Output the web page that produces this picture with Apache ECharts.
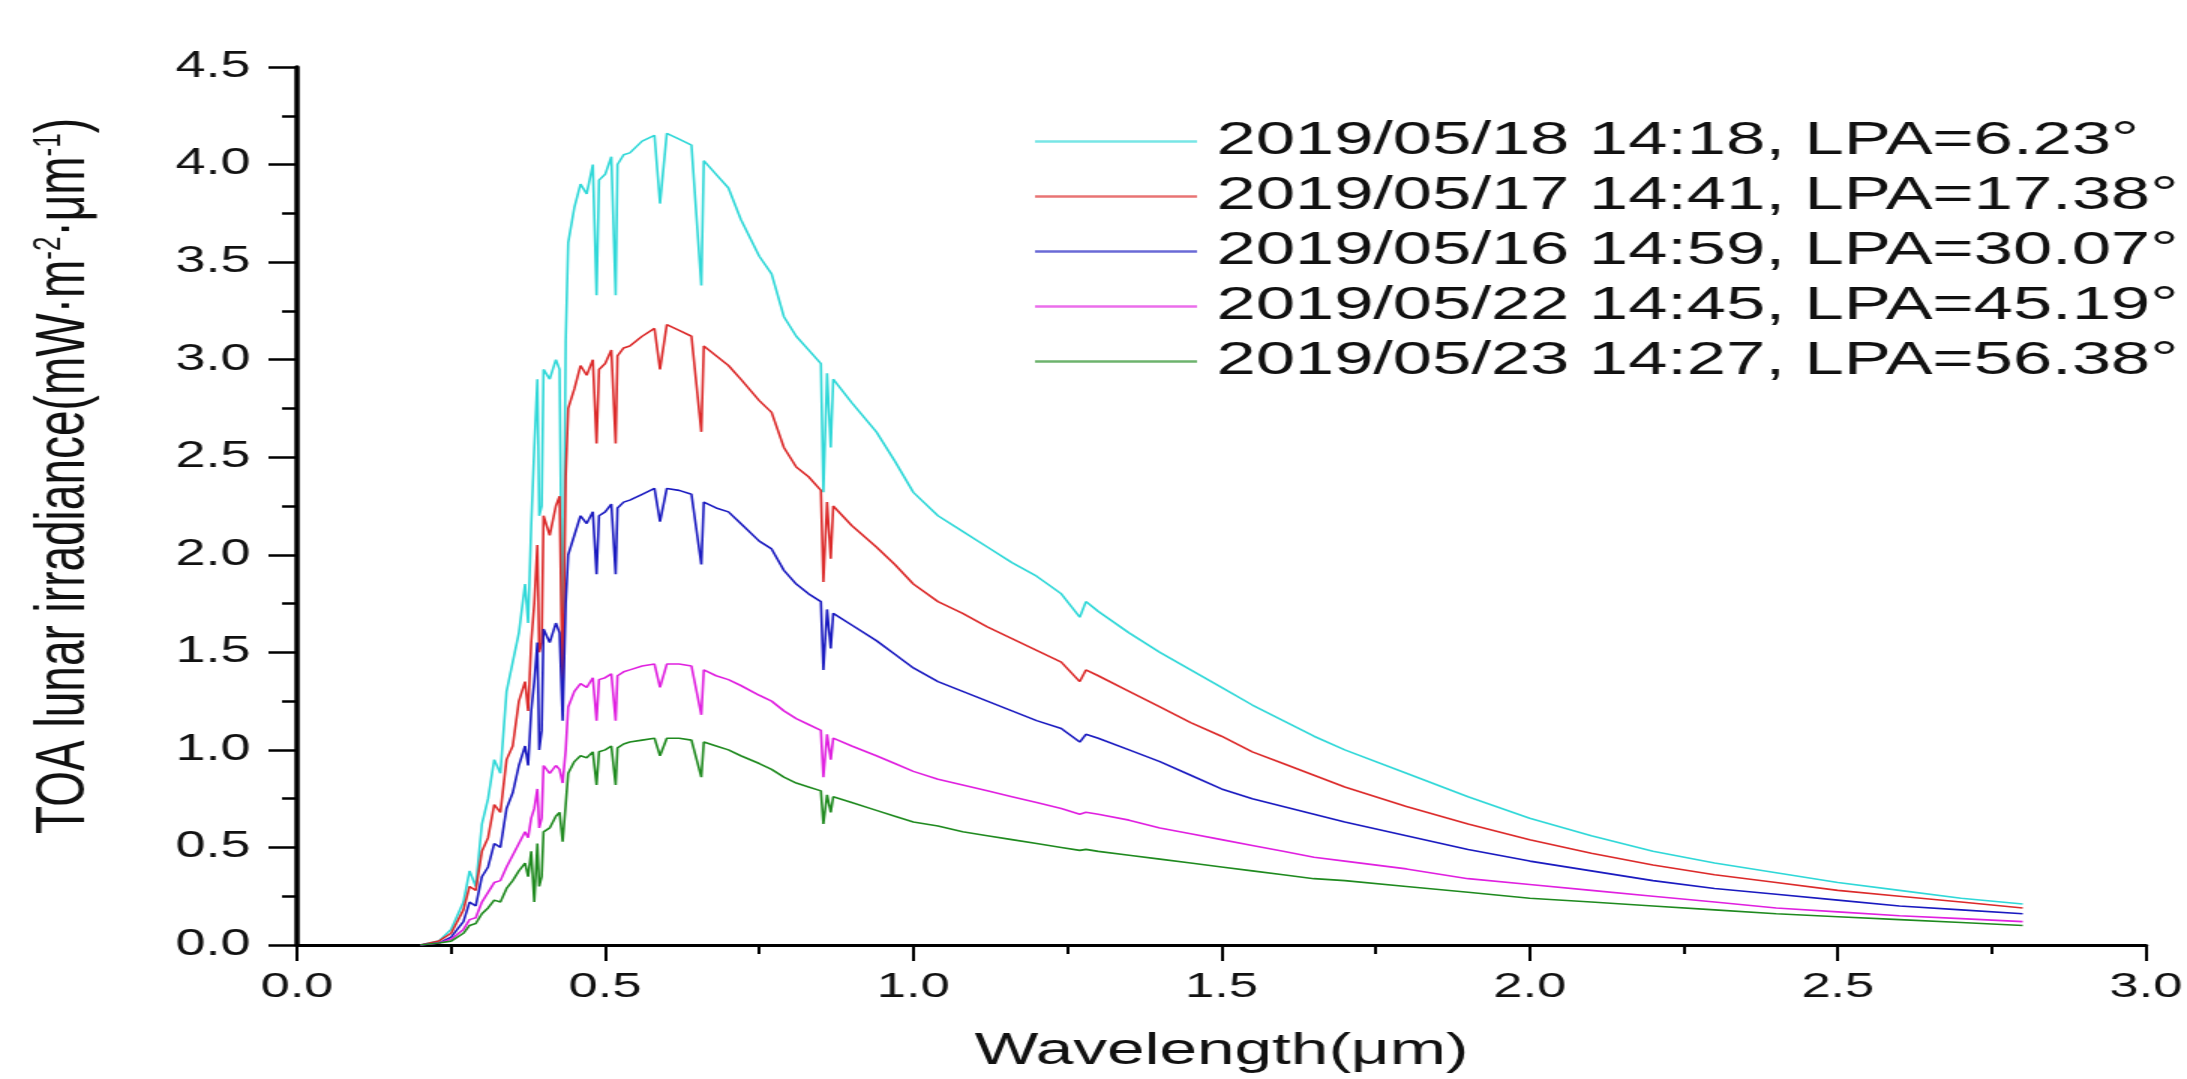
<!DOCTYPE html>
<html>
<head>
<meta charset="utf-8">
<script src="https://cdn.jsdelivr.net/npm/echarts@6/dist/echarts.min.js"></script>
<style>
  html, body { margin: 0; padding: 0; background: #ffffff; overflow: hidden; }
  #wrap { width: 2187px; height: 1079px; overflow: hidden; }
  #chart { width: 1458px; height: 1079px; transform: scaleX(1.5); transform-origin: 0 0; }
</style>
</head>
<body>
<div id="wrap"><div id="chart"></div></div>
<script>
// Wavelength grid (µm)
const wavelengths = [0.20,0.23,0.25,0.27,0.28,0.29,0.30,0.31,0.32,0.33,0.34,0.35,0.36,0.37,0.375,0.38,0.385,0.39,0.393,0.397,0.40,0.41,0.42,0.426,0.431,0.436,0.44,0.45,0.46,0.47,0.48,0.486,0.49,0.50,0.51,0.517,0.52,0.53,0.54,0.56,0.58,0.589,0.60,0.62,0.64,0.656,0.66,0.68,0.70,0.72,0.75,0.77,0.79,0.81,0.83,0.85,0.854,0.86,0.866,0.87,0.90,0.94,0.97,1.00,1.04,1.08,1.12,1.16,1.20,1.24,1.27,1.28,1.30,1.35,1.40,1.45,1.50,1.55,1.60,1.65,1.70,1.80,1.90,2.00,2.10,2.20,2.30,2.40,2.50,2.60,2.70,2.80];

// TOA lunar irradiance (mW·m-2·µm-1)
const lpa0623 = [0.00,0.02,0.08,0.22,0.38,0.30,0.62,0.75,0.95,0.88,1.30,1.45,1.60,1.85,1.65,2.15,2.55,2.90,2.20,2.25,2.95,2.90,3.00,2.95,1.40,3.10,3.60,3.78,3.90,3.85,4.00,3.33,3.92,3.95,4.04,3.33,4.00,4.05,4.06,4.12,4.15,3.80,4.16,4.13,4.10,3.38,4.02,3.95,3.88,3.72,3.53,3.44,3.22,3.12,3.05,2.98,2.32,2.93,2.55,2.90,2.78,2.63,2.48,2.32,2.20,2.12,2.04,1.96,1.89,1.80,1.68,1.76,1.71,1.60,1.50,1.41,1.32,1.23,1.15,1.07,1.00,0.88,0.76,0.65,0.56,0.48,0.42,0.37,0.32,0.28,0.24,0.21];
const lpa1738 = [0.00,0.02,0.06,0.18,0.30,0.28,0.48,0.55,0.72,0.68,0.95,1.02,1.25,1.35,1.20,1.55,1.75,2.05,1.50,1.55,2.20,2.10,2.25,2.30,1.27,2.40,2.75,2.85,2.97,2.92,3.00,2.57,2.95,2.98,3.05,2.57,3.02,3.06,3.07,3.12,3.16,2.95,3.18,3.15,3.12,2.63,3.07,3.02,2.97,2.90,2.79,2.73,2.55,2.45,2.40,2.33,1.86,2.27,1.98,2.25,2.15,2.04,1.95,1.85,1.76,1.70,1.63,1.57,1.51,1.45,1.35,1.41,1.38,1.30,1.22,1.14,1.07,0.99,0.93,0.87,0.81,0.71,0.62,0.54,0.47,0.41,0.36,0.32,0.28,0.25,0.22,0.19];
const lpa3007 = [0.00,0.01,0.04,0.12,0.22,0.20,0.35,0.40,0.52,0.50,0.70,0.78,0.92,1.02,0.92,1.20,1.35,1.55,1.00,1.10,1.62,1.55,1.65,1.60,1.15,1.75,2.00,2.10,2.20,2.16,2.22,1.90,2.20,2.22,2.26,1.90,2.24,2.27,2.28,2.31,2.34,2.17,2.34,2.33,2.31,1.95,2.27,2.24,2.22,2.16,2.07,2.03,1.92,1.85,1.80,1.76,1.41,1.72,1.52,1.70,1.64,1.56,1.49,1.42,1.35,1.30,1.25,1.20,1.15,1.11,1.04,1.08,1.06,1.00,0.94,0.87,0.80,0.75,0.71,0.67,0.63,0.56,0.49,0.43,0.38,0.33,0.29,0.26,0.23,0.20,0.18,0.16];
const lpa4519 = [0.00,0.01,0.03,0.08,0.13,0.14,0.22,0.27,0.32,0.33,0.40,0.46,0.52,0.58,0.55,0.65,0.70,0.80,0.60,0.65,0.92,0.88,0.92,0.90,0.83,1.00,1.22,1.30,1.34,1.32,1.37,1.15,1.36,1.37,1.39,1.15,1.38,1.40,1.41,1.43,1.44,1.32,1.44,1.44,1.43,1.18,1.41,1.38,1.36,1.33,1.28,1.25,1.20,1.16,1.13,1.10,0.86,1.08,0.95,1.06,1.02,0.97,0.93,0.89,0.85,0.82,0.79,0.76,0.73,0.70,0.67,0.68,0.67,0.64,0.60,0.57,0.54,0.51,0.48,0.45,0.43,0.39,0.34,0.31,0.28,0.25,0.22,0.19,0.17,0.15,0.135,0.12];
const lpa5638 = [0.00,0.01,0.02,0.06,0.10,0.11,0.16,0.19,0.23,0.22,0.29,0.33,0.38,0.42,0.35,0.48,0.22,0.52,0.30,0.35,0.58,0.60,0.66,0.68,0.53,0.72,0.88,0.94,0.97,0.96,0.99,0.82,0.99,1.00,1.02,0.82,1.01,1.03,1.04,1.05,1.06,0.97,1.06,1.06,1.05,0.86,1.04,1.02,1.00,0.97,0.93,0.90,0.86,0.83,0.81,0.79,0.62,0.77,0.68,0.76,0.73,0.69,0.66,0.63,0.61,0.58,0.56,0.54,0.52,0.50,0.485,0.49,0.48,0.46,0.44,0.42,0.40,0.38,0.36,0.34,0.33,0.30,0.27,0.24,0.22,0.20,0.18,0.16,0.145,0.13,0.115,0.10];

const seriesNames = [
  '2019/05/18 14:18, LPA=6.23°',
  '2019/05/17 14:41, LPA=17.38°',
  '2019/05/16 14:59, LPA=30.07°',
  '2019/05/22 14:45, LPA=45.19°',
  '2019/05/23 14:27, LPA=56.38°'
];
const seriesValues = [lpa0623, lpa1738, lpa3007, lpa4519, lpa5638];
const seriesColors = ['#2fd8d8', '#dc2a2a', '#1a1ac0', '#e020e0', '#1f8a1f'];

const xTicks = [0, 3, 0.5];     // min, max, interval
const yTicks = [0, 4.5, 0.5];

const chart = echarts.init(document.getElementById('chart'), null, { renderer: 'canvas' });
const fontFam = 'Arial, "Liberation Sans", Helvetica, sans-serif';
const narrowFam = '"Liberation Sans Narrow", "Arial Narrow", Arial, sans-serif';

const option = {
  animation: false,
  backgroundColor: '#ffffff',
  grid: { left: 198, right: 27, top: 67, bottom: 131, containLabel: false },
  legend: {
    orient: 'vertical',
    left: 685,
    top: 109,
    icon: 'rect',
    itemWidth: 108,
    itemHeight: 2.5,
    itemGap: 0,
    data: seriesNames,
    itemStyle: { opacity: 0.65 },
    textStyle: { fontFamily: fontFam, fontSize: 47, color: '#111', lineHeight: 55, padding: [0, 0, 0, 8] }
  },
  xAxis: {
    type: 'value',
    min: xTicks[0], max: xTicks[1], interval: xTicks[2],
    name: 'Wavelength(μm)',
    nameLocation: 'middle',
    nameGap: 84,
    nameTextStyle: { fontFamily: fontFam, fontSize: 45, color: '#111' },
    axisLine: { show: true, onZero: false, lineStyle: { color: '#000', width: 3 } },
    axisTick: { show: true, inside: false, length: 16, lineStyle: { color: '#000', width: 2 } },
    minorTick: { show: true, splitNumber: 2, length: 9, lineStyle: { color: '#000', width: 2 } },
    splitLine: { show: false },
    axisLabel: { fontFamily: fontFam, fontSize: 35, color: '#111', margin: 25, formatter: v => v.toFixed(1) }
  },
  yAxis: {
    type: 'value',
    min: yTicks[0], max: yTicks[1], interval: yTicks[2],
    name: 'TOA lunar irradiance(mW·m{sup|-2}·μm{sup|-1})',
    nameLocation: 'middle',
    nameGap: 132,
    nameTextStyle: {
      fontFamily: narrowFam,
      fontSize: 46, color: '#111', padding: [0, 0, 0, 60],
      rich: { sup: { fontFamily: narrowFam, fontSize: 26, verticalAlign: 'top', color: '#111' } }
    },
    axisLine: { show: true, onZero: false, lineStyle: { color: '#000', width: 3.5 } },
    axisTick: { show: true, inside: false, length: 19, lineStyle: { color: '#000', width: 2.5 } },
    minorTick: { show: true, splitNumber: 2, length: 10, lineStyle: { color: '#000', width: 2.5 } },
    splitLine: { show: false },
    axisLabel: { fontFamily: fontFam, fontSize: 36, color: '#111', margin: 31, formatter: v => v.toFixed(1) }
  },
  series: seriesNames.map((name, k) => ({
    name: name,
    type: 'line',
    symbol: 'none',
    showSymbol: false,
    smooth: false,
    color: seriesColors[k],
    lineStyle: { color: seriesColors[k], width: 1.6 },
    data: wavelengths.map((w, i) => [w, seriesValues[k][i]])
  }))
};
chart.setOption(option);
</script>
</body>
</html>
